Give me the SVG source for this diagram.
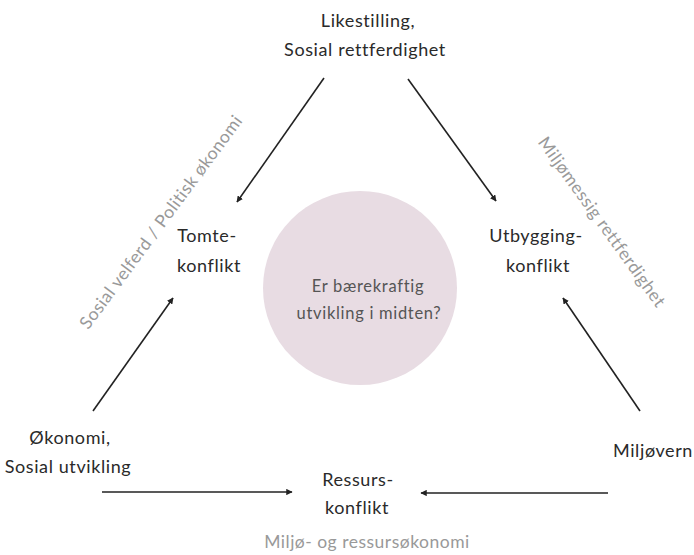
<svg xmlns="http://www.w3.org/2000/svg" width="694" height="555" viewBox="0 0 694 555">
  <style>
    .lbl { font-family: Lato, "Liberation Sans", sans-serif; font-size: 18px; letter-spacing: 0.6px; fill: #2a2a2a; text-anchor: middle; }
    .mid { font-family: Lato, "Liberation Sans", sans-serif; font-size: 16.5px; letter-spacing: 0.7px; fill: #555; text-anchor: middle; }
    .side { font-family: Lato, "Liberation Sans", sans-serif; font-size: 17.5px; letter-spacing: 0.5px; fill: #999; text-anchor: middle; }
    .conn { stroke: #222; stroke-width: 1.6; fill: none; marker-end: url(#head); }
  </style>
  <defs>
    <marker id="head" viewBox="0 0 10 10" refX="9" refY="5" markerWidth="4" markerHeight="4" orient="auto" markerUnits="strokeWidth">
      <path d="M0,0 L10,5 L0,10 z" fill="#222"/>
    </marker>
  </defs>
  <rect width="694" height="555" fill="#fff"/>

  <g id="center">
    <circle cx="360" cy="288" r="97" fill="#e8dce3"/>
    <text class="mid" x="368" y="292">Er bærekraftig</text>
    <text class="mid" x="369" y="319">utvikling i midten?</text>
  </g>

  <g id="top">
    <text class="lbl" x="368" y="27">Likestilling,</text>
    <text class="lbl" x="365" y="56">Sosial rettferdighet</text>
  </g>

  <g id="tomte">
    <text class="lbl" x="207" y="242">Tomte-</text>
    <text class="lbl" x="209" y="272">konflikt</text>
  </g>

  <g id="utbygging">
    <text class="lbl" x="536" y="242">Utbygging-</text>
    <text class="lbl" x="538" y="272">konflikt</text>
  </g>

  <g id="okonomi">
    <text class="lbl" x="70" y="444">Økonomi,</text>
    <text class="lbl" x="68" y="473">Sosial utvikling</text>
  </g>

  <g id="miljovern">
    <text class="lbl" x="653" y="457">Miljøvern</text>
  </g>

  <g id="ressurs">
    <text class="lbl" x="358" y="486">Ressurs-</text>
    <text class="lbl" x="357" y="514">konflikt</text>
  </g>

  <g id="axis-labels">
    <text class="side" transform="translate(161,222) rotate(-53.5)" y="6">Sosial velferd / Politisk økonomi</text>
    <text class="side" transform="translate(602,222) rotate(54.3)" y="6">Miljømessig rettferdighet</text>
    <text class="side" x="367" y="548">Miljø- og ressursøkonomi</text>
  </g>

  <g id="connectors">
    <line class="conn" x1="324" y1="78" x2="237" y2="202"/>
    <line class="conn" x1="408" y1="79" x2="496" y2="201"/>
    <line class="conn" x1="93" y1="411" x2="173" y2="298"/>
    <line class="conn" x1="640" y1="411" x2="563" y2="298"/>
    <line class="conn" x1="102" y1="492" x2="292" y2="492"/>
    <line class="conn" x1="608" y1="493" x2="421" y2="493"/>
  </g>
</svg>
